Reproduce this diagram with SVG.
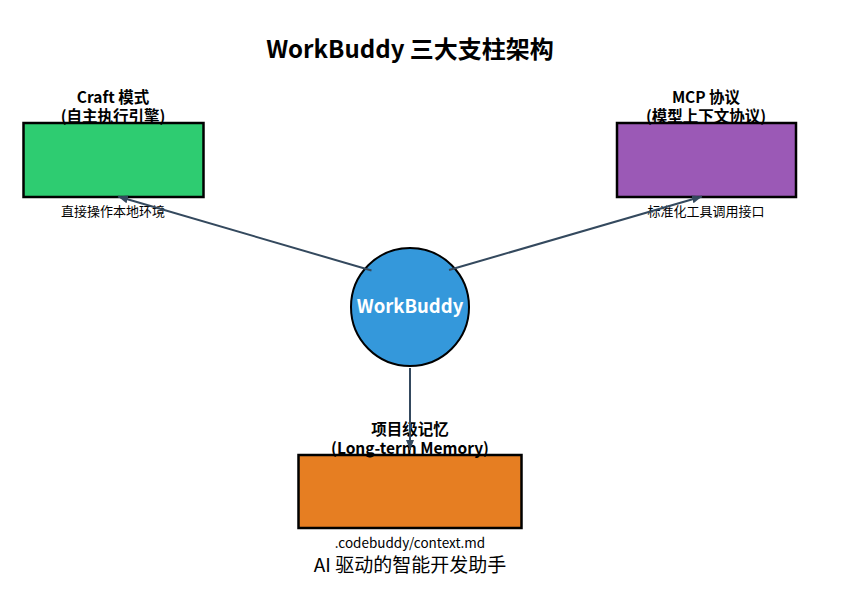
<svg xmlns="http://www.w3.org/2000/svg" width="851" height="595" viewBox="0 0 851 595">
<defs>
<marker id="ah" viewBox="0 0 10 10" refX="10" refY="5" markerWidth="5" markerHeight="5" orient="auto" markerUnits="strokeWidth">
<path d="M0,1 L10,5 L0,9 z" fill="#34495e"/>
</marker>
<style>
text{font-family:"Noto Sans CJK SC","Noto Sans",sans-serif;fill:#000;text-anchor:middle}
.box{stroke:#000;stroke-width:2.5}
.lbl{font-size:15.5px;font-weight:bold}
.sub{font-size:13px}
.edge{stroke:#34495e;stroke-width:2;fill:none;marker-end:url(#ah)}
</style>
</defs>
<rect width="851" height="595" fill="#fff"/>
<text x="410" y="58" style="font-size:24px;font-weight:bold">WorkBuddy 三大支柱架构</text>
<g id="craft">
<rect class="box" x="23.5" y="123" width="180" height="74" fill="#2ecc71"/>
<text class="lbl" x="113" y="103">Craft 模式</text>
<text class="lbl" x="113" y="122">(自主执行引擎)</text>
<text class="sub" x="113" y="216">直接操作本地环境</text>
</g>
<g id="mcp">
<rect class="box" x="617" y="123" width="179" height="74" fill="#9b59b6"/>
<text class="lbl" x="706" y="103">MCP 协议</text>
<text class="lbl" x="706" y="122">(模型上下文协议)</text>
<text class="sub" x="706" y="216">标准化工具调用接口</text>
</g>
<g id="memory">
<rect class="box" x="298.5" y="455" width="223" height="73" fill="#e67e22"/>
<text class="lbl" x="410" y="435">项目级记忆</text>
<text class="lbl" x="410" y="454">(Long-term Memory)</text>
<text class="sub" x="410" y="548" style="font-size:13.5px">.codebuddy/context.md</text>
</g>
<g id="workbuddy">
<circle cx="410" cy="307" r="59" fill="#3498db" stroke="#000" stroke-width="2"/>
<text x="410" y="313" style="font-size:18.5px;font-weight:bold;fill:#fff">WorkBuddy</text>
</g>
<g id="connectors">
<line class="edge" x1="371.5" y1="270.5" x2="118" y2="196.5"/>
<line class="edge" x1="449" y1="270" x2="702" y2="196.5"/>
<line class="edge" x1="410" y1="368" x2="410" y2="450"/>
</g>
<text x="410" y="572" style="font-size:19px">AI 驱动的智能开发助手</text>
</svg>
